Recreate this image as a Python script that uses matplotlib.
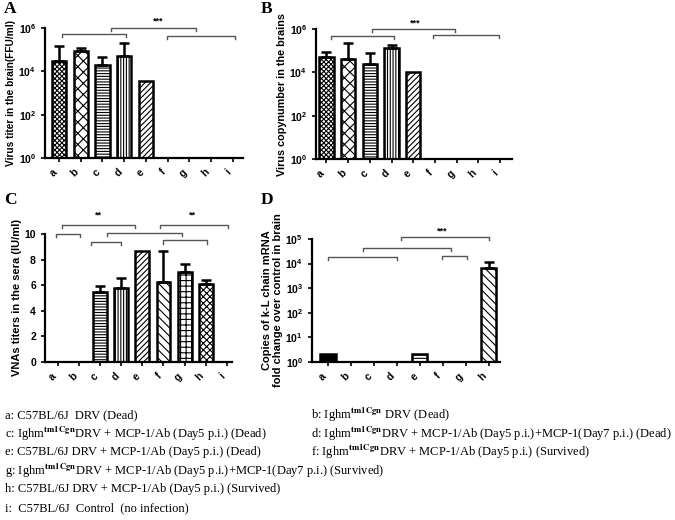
import numpy as np
import matplotlib
matplotlib.use('Agg')
import matplotlib.pyplot as plt
import matplotlib.transforms as mtransforms

plt.rcParams['font.family'] = ['Liberation Sans', 'DejaVu Sans']
plt.rcParams['font.weight'] = 'bold'
plt.rcParams['hatch.linewidth'] = 0.8
plt.rcParams['mathtext.fontset'] = 'custom'
plt.rcParams['mathtext.rm'] = 'Liberation Sans:bold'
plt.rcParams['mathtext.it'] = 'Liberation Sans:bold'
plt.rcParams['mathtext.bf'] = 'Liberation Sans:bold'

# ---- data ----
groups9 = ['a', 'b', 'c', 'd', 'e', 'f', 'g', 'h', 'i']
groups8 = ['a', 'b', 'c', 'd', 'e', 'f', 'g', 'h']

titer_A = [2.9e4, 8.5e4, 2.0e4, 4.9e4, 3.4e3, 0, 0, 0, 0]
titer_A_err = [1.5e5, 1.25e5, 4.8e4, 2.0e5, 0, 0, 0, 0, 0]

copies_B = [5.1e4, 4.2e4, 2.5e4, 1.3e5, 1.05e4, 0, 0, 0, 0]
copies_B_err = [8.7e4, 2.2e5, 8.0e4, 1.8e5, 0, 0, 0, 0, 0]

vna_C = [0, 0, 5.5, 5.8, 8.7, 6.25, 7.05, 6.1, 0]
vna_C_err = [0, 0, 5.9, 6.6, 0, 8.7, 7.65, 6.4, 0]

kl_D = [1.12, 0, 0, 0, 1.12, 0, 0, 6.8e3]
kl_D_err = [1.2, 0, 0, 0, 0, 0, 0, 1.2e4]

hatch_AB = ['xxxxxxx', 'xxx', '------', '||||||', '//////', '', '', '', '']
hatch_C = ['', '', '------', '||||||', '//////', '\\\\\\\\', '+++', 'xxxxx', '']
hatch_D = ['', '', '', '', '-----', '', '', '\\\\\\\\']
face_D = ['black', 'white', 'white', 'white', 'white', 'white', 'white', 'white']

log_ticks_AB = [1, 1e2, 1e4, 1e6]
log_labels_AB = [r'$10^0$', r'$10^2$', r'$10^4$', r'$10^6$']
log_ticks_D = [1, 1e1, 1e2, 1e3, 1e4, 1e5]
log_labels_D = [r'$10^0$', r'$10^1$', r'$10^2$', r'$10^3$', r'$10^4$', r'$10^5$']
lin_ticks_C = [0, 2, 4, 6, 8, 10]

# brackets: (x1, x2, y in axes fraction)
brackets_A = [(0.14, 3.08, 0.954), (2.39, 6.3, 1.0), (4.97, 8.09, 0.938)]
stars_A = [(4.55, 1.05, '***')]
brackets_B = [(0.2, 3.1, 0.946), (2.09, 5.94, 1.0), (4.9, 7.96, 0.954)]
stars_B = [(4.1, 1.046, '***')]
brackets_C = [(-0.09, 1.04, 1.0), (0.19, 3.65, 1.07), (1.56, 2.99, 0.94),
              (2.32, 5.88, 1.01), (4.83, 8.06, 1.07), (4.98, 7.06, 0.95)]
stars_C = [(1.9, 1.15, '**'), (6.35, 1.15, '**')]
brackets_D = [(0.0, 3.0, 0.854), (1.52, 5.35, 0.927), (3.17, 7.04, 1.016),
              (4.96, 6.04, 0.862)]
stars_D = [(4.96, 1.065, '***')]

legend_left = [
    'a: C57BL/6J  DRV (Dead)',
    r'c: Ighm$^{\mathrm{tm1Cgn}}$DRV + MCP-1/Ab (Day5 p.i.) (Dead)',
    'e: C57BL/6J DRV + MCP-1/Ab (Day5 p.i.) (Dead)',
    r'g: Ighm$^{\mathrm{tm1Cgn}}$DRV + MCP-1/Ab (Day5 p.i.)+MCP-1(Day7 p.i.) (Survived)',
    'h: C57BL/6J DRV + MCP-1/Ab (Day5 p.i.) (Survived)',
    'i:  C57BL/6J  Control  (no infection)',
]
legend_right = [
    r'b: Ighm$^{\mathrm{tm1Cgn}}$ DRV (Dead)',
    r'd: Ighm$^{\mathrm{tm1Cgn}}$DRV + MCP-1/Ab (Day5 p.i.)+MCP-1(Day7 p.i.) (Dead)',
    r'f: Ighm$^{\mathrm{tm1Cgn}}$DRV + MCP-1/Ab (Day5 p.i.) (Survived)',
]


def draw_bars(ax, vals, errs, hatches, faces=None, log=False):
    x = np.arange(len(vals))
    for i, v in enumerate(vals):
        if v <= 0:
            continue
        fc = 'white' if faces is None else faces[i]
        ax.bar(x[i], v, width=0.66, bottom=1 if log else 0, color=fc,
               edgecolor='black', linewidth=1.8, hatch=hatches[i], zorder=2)
        if errs[i] > v:
            ax.errorbar(x[i], v, yerr=[[0], [errs[i] - v]], fmt='none',
                        ecolor='black', elinewidth=1.8, capsize=3.5,
                        capthick=1.8, zorder=3)


def style(ax, labels):
    for s in ['top', 'right']:
        ax.spines[s].set_visible(False)
    for s in ['left', 'bottom']:
        ax.spines[s].set_linewidth(1.6)
    ax.set_xticks(np.arange(len(labels)))
    ax.set_xticklabels(labels, rotation=45, ha='right', va='top',
                       fontsize=7.5, fontweight='bold')
    ax.tick_params(axis='both', direction='out', length=3, width=1.2,
                   labelsize=7.5)
    ax.tick_params(axis='y', which='minor', left=False)


def draw_brackets(ax, brackets, stars):
    tr = mtransforms.blended_transform_factory(ax.transData, ax.transAxes)
    for x1, x2, y in brackets:
        ax.plot([x1, x1, x2, x2], [y - 0.025, y, y, y - 0.025], color='#555555',
                lw=1.0, transform=tr, clip_on=False)
    for xs, ys, t in stars:
        ax.text(xs, ys, t, transform=tr, ha='center', va='center',
                fontsize=6.5, fontweight='bold')


fig = plt.figure(figsize=(6.75, 5.2), dpi=100)

# A
axA = fig.add_axes([45 / 675, 1 - 158 / 520, 198 / 675, 130 / 520])
axA.set_yscale('log')
draw_bars(axA, titer_A, titer_A_err, hatch_AB, log=True)
axA.set_ylim(1, 1e6)
axA.set_xlim(-0.64, 8.46)
axA.set_yticks(log_ticks_AB)
axA.set_yticklabels(log_labels_AB)
style(axA, groups9)
axA.set_ylabel('Virus titer in the brain(FFU/ml)', fontsize=7.3, fontweight='bold',
               labelpad=2)
draw_brackets(axA, brackets_A, stars_A)

# B
axB = fig.add_axes([316 / 675, 1 - 159 / 520, 196 / 675, 130 / 520])
axB.set_yscale('log')
draw_bars(axB, copies_B, copies_B_err, hatch_AB, log=True)
axB.set_ylim(1, 1e6)
axB.set_xlim(-0.48, 8.55)
axB.set_yticks(log_ticks_AB)
axB.set_yticklabels(log_labels_AB)
style(axB, groups9)
axB.set_ylabel('Virus copynumber in the brains', fontsize=7.8, fontweight='bold',
               labelpad=2)
draw_brackets(axB, brackets_B, stars_B)

# C
axC = fig.add_axes([45 / 675, 1 - 362 / 520, 187 / 675, 128 / 520])
draw_bars(axC, vna_C, vna_C_err, hatch_C)
axC.set_ylim(0, 10)
axC.set_xlim(-0.62, 8.25)
axC.set_yticks(lin_ticks_C)
style(axC, groups9)
axC.set_ylabel('VNAs titers in the sera (IU/ml)', fontsize=8, fontweight='bold',
               labelpad=2)
draw_brackets(axC, brackets_C, stars_C)

# D
axD = fig.add_axes([312 / 675, 1 - 362 / 520, 188 / 675, 123 / 520])
axD.set_yscale('log')
draw_bars(axD, kl_D, kl_D_err, hatch_D, faces=face_D, log=True)
axD.set_ylim(1, 1e5)
axD.set_xlim(-0.7, 7.5)
axD.set_yticks(log_ticks_D)
axD.set_yticklabels(log_labels_D)
style(axD, groups8)
axD.set_ylabel('Copies of k-L chain mRNA\nfold change over control in brain',
               fontsize=8, fontweight='bold', labelpad=2, linespacing=1.1)
draw_brackets(axD, brackets_D, stars_D)

# panel letters
for lx, ly, letter in [(4, 9, 'A'), (261, 9, 'B'), (4, 200, 'C'), (261, 200, 'D')]:
    fig.text(lx / 675, 1 - ly / 520, letter, fontsize=12.5, fontweight='bold',
             family=['Liberation Serif', 'DejaVu Serif'], va='center', ha='left')

# legend text
for k, t in enumerate(legend_left):
    fig.text(5 / 675, 1 - (415 + 18.6 * k) / 520, t, fontsize=9,
             family=['Liberation Serif', 'DejaVu Serif'], fontweight='normal',
             va='center', ha='left', math_fontfamily='stix')
for k, t in enumerate(legend_right):
    fig.text(311 / 675, 1 - (415 + 18.6 * k) / 520, t, fontsize=9,
             family=['Liberation Serif', 'DejaVu Serif'], fontweight='normal',
             va='center', ha='left', math_fontfamily='stix')

fig.savefig('out.png', dpi=100, facecolor='white')
